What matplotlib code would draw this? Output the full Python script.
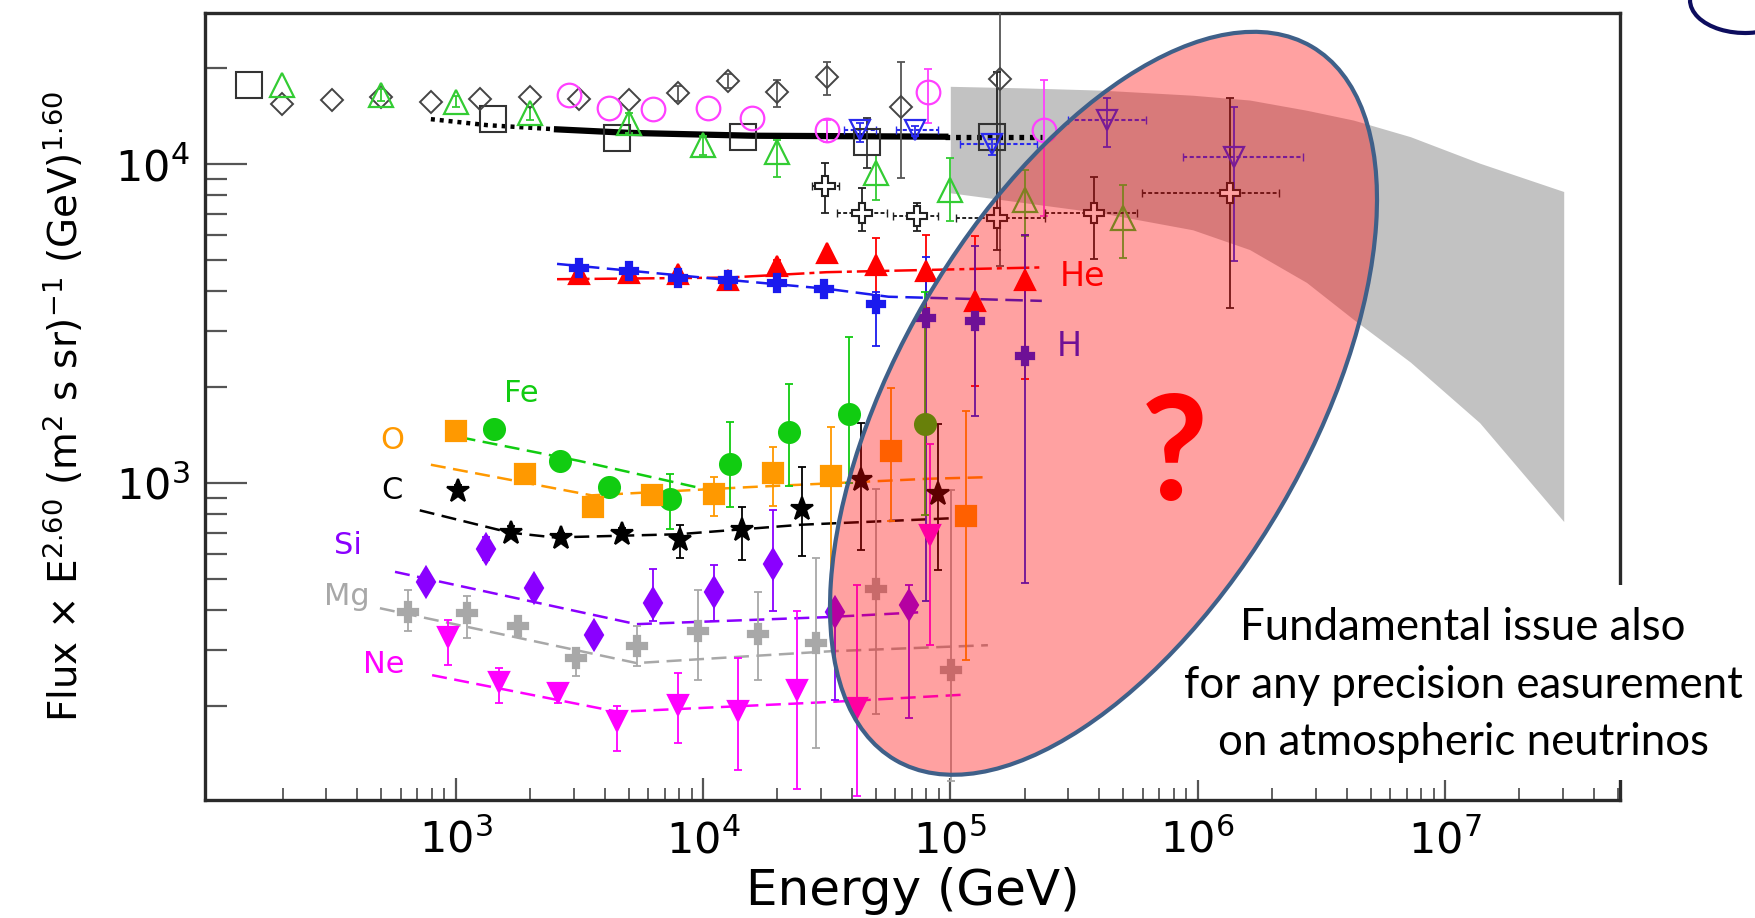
import numpy as np
import matplotlib
matplotlib.use('Agg')
import matplotlib.pyplot as plt
from matplotlib.patches import Ellipse, Rectangle, Arc
from matplotlib.ticker import FixedLocator, LogLocator, LogFormatterSciNotation, NullFormatter

# all values: log10(Energy / GeV) and log10(Flux x E^2.6)

# --- high-energy all-particle / proton data (open markers) ---
sq_lgE = [2.163, 3.153, 3.651, 4.161, 4.665, 5.167]
sq_lgF = [4.248, 4.142, 4.082, 4.087, 4.071, 4.087]
sq_lo = [4.248, 4.142, 4.082, 4.087, 3.990, 4.087]
sq_hi = [4.248, 4.142, 4.082, 4.087, 4.145, 4.087]

fit_lgE = [2.90, 3.13, 3.41, 3.70, 4.20, 4.98, 5.37]
fit_lgF = [4.142, 4.123, 4.110, 4.099, 4.090, 4.087, 4.087]

dia_lgE = [2.3, 2.5, 2.7, 2.9, 3.1, 3.3, 3.5, 3.7, 3.9, 4.1, 4.3, 4.5, 4.8, 5.2]
dia_lgF = [4.191, 4.201, 4.210, 4.196, 4.205, 4.212, 4.204, 4.202, 4.223, 4.261, 4.228, 4.274, 4.181, 4.269]
dia_lo = [4.191, 4.201, 4.210, 4.196, 4.205, 4.212, 4.204, 4.202, 4.200, 4.240, 4.181, 4.217, 3.957, 3.680]
dia_hi = [4.191, 4.201, 4.210, 4.196, 4.205, 4.212, 4.204, 4.202, 4.245, 4.285, 4.264, 4.321, 4.321, 4.600]

tri_lgE = [2.3, 2.7, 3.0, 3.3, 3.7, 4.0, 4.3, 4.7, 5.0, 5.3, 5.7]
tri_lgF = [4.248, 4.217, 4.196, 4.160, 4.129, 4.061, 4.040, 3.972, 3.920, 3.889, 3.832]
tri_lo = [4.248, 4.200, 4.180, 4.140, 4.100, 4.030, 3.962, 3.889, 3.821, 3.774, 3.708]
tri_hi = [4.248, 4.235, 4.215, 4.180, 4.160, 4.090, 4.077, 4.030, 4.020, 3.983, 3.936]

cir_lgE = [3.46, 3.62, 3.80, 4.02, 4.20, 4.50, 4.91, 5.38]
cir_lgF = [4.217, 4.176, 4.173, 4.176, 4.147, 4.108, 4.228, 4.108]
cir_lo = [4.217, 4.176, 4.173, 4.176, 4.147, 4.070, 4.129, 3.837]
cir_hi = [4.217, 4.176, 4.173, 4.176, 4.147, 4.140, 4.300, 4.264]

bdt_lgE = [4.635, 4.858, 5.17, 5.632, 6.149]
bdt_lgF = [4.108, 4.108, 4.063, 4.139, 4.024]
bdt_lo = [4.070, 4.090, 4.030, 4.056, 3.696]
bdt_hi = [4.130, 4.120, 4.080, 4.207, 4.180]
bdt_xlo = [4.57, 4.78, 5.04, 5.474, 5.94]
bdt_xhi = [4.70, 4.95, 5.35, 5.791, 6.426]

crs_lgE = [4.493, 4.643, 4.865, 5.189, 5.582, 6.129]
crs_lgF = [3.931, 3.848, 3.837, 3.832, 3.848, 3.910]
crs_lo = [3.848, 3.790, 3.790, 3.733, 3.702, 3.550]
crs_hi = [4.005, 3.927, 3.880, 4.290, 3.962, 4.207]
crs_xlo = [4.44, 4.542, 4.77, 5.024, 5.381, 5.775]
crs_xhi = [4.55, 4.743, 4.95, 5.381, 5.755, 6.329]

# grey band (all-particle model)
band_lgE = [5.0, 5.3, 5.61, 5.98, 6.21, 6.44, 6.63, 6.86, 7.14, 7.48]
band_hi = [4.245, 4.240, 4.233, 4.217, 4.202, 4.170, 4.139, 4.087, 4.004, 3.915]
band_lo = [3.911, 3.880, 3.848, 3.795, 3.733, 3.630, 3.514, 3.380, 3.190, 2.880]

# --- element spectra ---
he_lgE = [3.5, 3.7, 3.9, 4.1, 4.3, 4.5, 4.7, 4.9, 5.1, 5.3]
he_lgF = [3.655, 3.660, 3.655, 3.639, 3.681, 3.722, 3.686, 3.665, 3.571, 3.639]
he_lo = [3.645, 3.650, 3.645, 3.625, 3.665, 3.722, 3.590, 3.550, 3.306, 3.327]
he_hi = [3.665, 3.670, 3.665, 3.650, 3.700, 3.722, 3.770, 3.780, 3.774, 3.780]
he_fit_lgE = [3.41, 4.1, 4.5, 5.37]
he_fit_lgF = [3.640, 3.645, 3.662, 3.677]

h_lgE = [3.5, 3.7, 3.9, 4.1, 4.3, 4.49, 4.7, 4.9, 5.1, 5.3]
h_lgF = [3.676, 3.665, 3.644, 3.639, 3.627, 3.608, 3.561, 3.519, 3.509, 3.400]
h_lo = [3.660, 3.650, 3.625, 3.625, 3.610, 3.590, 3.431, 2.630, 3.212, 2.686]
h_hi = [3.690, 3.680, 3.660, 3.655, 3.640, 3.625, 3.600, 3.710, 3.743, 3.780]
h_fit_lgE = [3.41, 4.0, 4.5, 4.75, 5.37]
h_fit_lgF = [3.688, 3.645, 3.610, 3.585, 3.572]

fe_lgE = [3.155, 3.424, 3.621, 3.867, 4.108, 4.346, 4.592, 4.898]
fe_lgF = [3.170, 3.071, 2.988, 2.952, 3.061, 3.160, 3.217, 3.186]
fe_lo = [3.150, 3.050, 2.960, 2.858, 2.927, 2.990, 3.000, 2.900]
fe_hi = [3.190, 3.095, 3.015, 3.030, 3.192, 3.311, 3.458, 3.600]
fe_fit_lgE = [3.02, 3.5, 4.0]
fe_fit_lgF = [3.144, 3.070, 2.983]

o_lgE = [3.001, 3.282, 3.555, 3.793, 4.044, 4.285, 4.518, 4.761, 5.062]
o_lgF = [3.165, 3.030, 2.926, 2.962, 2.967, 3.032, 3.024, 3.102, 2.897]
o_lo = [3.165, 3.030, 2.926, 2.940, 2.898, 2.930, 2.590, 2.880, 2.445]
o_hi = [3.165, 3.030, 2.926, 2.985, 3.020, 3.114, 3.176, 3.300, 3.226]
o_fit_lgE = [2.90, 3.55, 4.19, 4.91, 5.15]
o_fit_lgF = [3.058, 2.962, 2.988, 3.014, 3.019]

c_lgE = [3.009, 3.224, 3.427, 3.673, 3.908, 4.159, 4.400, 4.639, 4.952]
c_lgF = [2.977, 2.845, 2.829, 2.842, 2.821, 2.852, 2.918, 3.009, 2.967]
c_lo = [2.960, 2.830, 2.815, 2.825, 2.764, 2.758, 2.773, 2.790, 2.727]
c_hi = [2.995, 2.865, 2.845, 2.860, 2.868, 2.926, 3.050, 3.190, 3.186]
c_fit_lgE = [2.855, 3.22, 3.40, 3.9, 4.4, 5.0]
c_fit_lgF = [2.915, 2.845, 2.830, 2.840, 2.870, 2.890]

si_lgE = [2.879, 3.124, 3.317, 3.559, 3.797, 4.044, 4.285, 4.534, 4.835]
si_lgF = [2.691, 2.793, 2.672, 2.523, 2.623, 2.660, 2.748, 2.597, 2.618]
si_lo = [2.670, 2.760, 2.660, 2.500, 2.567, 2.567, 2.600, 2.320, 2.264]
si_hi = [2.720, 2.830, 2.690, 2.545, 2.730, 2.743, 2.915, 2.620, 2.680]
si_fit_lgE = [2.755, 3.73, 4.5, 4.87]
si_fit_lgF = [2.722, 2.558, 2.580, 2.595]

mg_lgE = [2.809, 3.048, 3.252, 3.486, 3.732, 3.980, 4.223, 4.457, 4.700, 5.002]
mg_lgF = [2.597, 2.592, 2.551, 2.452, 2.491, 2.537, 2.527, 2.498, 2.668, 2.415]
mg_lo = [2.536, 2.514, 2.530, 2.395, 2.427, 2.384, 2.384, 2.170, 2.275, 2.067]
mg_hi = [2.665, 2.645, 2.575, 2.483, 2.551, 2.665, 2.660, 2.764, 2.983, 2.978]
mg_fit_lgE = [2.694, 3.731, 4.515, 5.152]
mg_fit_lgF = [2.608, 2.436, 2.473, 2.492]

ne_lgE = [2.971, 3.175, 3.412, 3.652, 3.898, 4.143, 4.380, 4.623, 4.918]
ne_lgF = [2.519, 2.377, 2.342, 2.254, 2.306, 2.287, 2.353, 2.295, 2.837]
ne_lo = [2.430, 2.310, 2.310, 2.160, 2.186, 2.100, 2.040, 2.020, 2.493]
ne_hi = [2.571, 2.420, 2.370, 2.300, 2.405, 2.452, 2.600, 2.680, 3.124]
ne_fit_lgE = [2.905, 3.655, 4.515, 5.058]
ne_fit_lgF = [2.398, 2.283, 2.314, 2.337]

x_ticks = [1e3, 1e4, 1e5, 1e6, 1e7]

# label text + where it sits (log10 coords)
elem_labels = ['Fe', 'O', 'C', 'Si', 'Mg', 'Ne', 'He', 'H']
elem_lab_lgE = [3.265, 2.745, 2.741, 2.566, 2.562, 2.711, 5.536, 5.482]
elem_lab_lgF = [3.280, 3.135, 2.977, 2.805, 2.645, 2.431, 3.647, 3.428]
elem_colors = ['#11cc11', '#ff9900', 'black', '#8a00ff', '#a8a8a8', '#ff00ff', '#ff0000', '#1a1aee']

note_lines = ['Fundamental issue also', 'for any precision easurement', 'on atmospheric neutrinos']


def p(v):
    return 10 ** np.asarray(v, dtype=float)


def points(ax, lgE, lgF, lo, hi, color, marker, ms, filled=True, mew=1.6, ecolor=None, z=4):
    E, F, L, H = p(lgE), p(lgF), p(lo), p(hi)
    m = (np.asarray(hi) - np.asarray(lo)) > 0.001
    if m.any():
        ax.errorbar(E[m], F[m], yerr=[F[m] - L[m], H[m] - F[m]], fmt='none',
                    ecolor=ecolor or color, elinewidth=1.3, capsize=3, capthick=1.3, zorder=z - 1)
    ax.plot(E, F, ls='none', marker=marker, ms=ms, color=color,
            mfc=color if filled else 'white' if marker == 'P' else 'none',
            mec=color, mew=mew, zorder=z)


def fitline(ax, lgE, lgF, color, ls=(0, (6, 3)), lw=1.8):
    ax.plot(p(lgE), p(lgF), color=color, ls=ls, lw=lw, zorder=2)


fig = plt.figure(figsize=(17.55, 9.18), dpi=100)
ax = fig.add_axes([205 / 1755, 1 - 800 / 918, 1415 / 1755, 787 / 918])
ax.set_xscale('log')
ax.set_yscale('log')
ax.set_xlim(97, 5.1e7)
ax.set_ylim(101.5, 29850)

# grey band
ax.fill_between(p(band_lgE), p(band_lo), p(band_hi), color='#c2c2c2', lw=0, zorder=1)

# black fit line: dotted / solid / dotted
fE, fF = p(fit_lgE), p(fit_lgF)
ax.plot(fE[:3], fF[:3], color='black', lw=3.2, ls=(0, (0.9, 1.1)), zorder=2)
ax.plot(fE[2:6], fF[2:6], color='black', lw=4.5, zorder=2)
ax.plot(fE[5:], fF[5:], color='black', lw=3.8, ls=(0, (0.9, 1.1)), zorder=2)

points(ax, sq_lgE, sq_lgF, sq_lo, sq_hi, '#333333', 's', 19, filled=False, mew=1.5)
points(ax, dia_lgE, dia_lgF, dia_lo, dia_hi, '#444444', 'D', 11, filled=False, mew=1.4, ecolor='#555555')
points(ax, tri_lgE, tri_lgF, tri_lo, tri_hi, '#33cc33', '^', 17, filled=False, mew=1.6)
points(ax, cir_lgE, cir_lgF, cir_lo, cir_hi, '#ff40ff', 'o', 17, filled=False, mew=1.6)

# open down triangles with dotted energy bars
eb = ax.errorbar(p(bdt_lgE), p(bdt_lgF),
                 xerr=[p(bdt_lgE) - p(bdt_xlo), p(bdt_xhi) - p(bdt_lgE)], fmt='none',
                 ecolor='#2a2aee', elinewidth=1.5, capsize=3, zorder=3)
eb[2][0].set_linestyle((0, (2, 1.2)))
points(ax, bdt_lgE, bdt_lgF, bdt_lo, bdt_hi, '#2a2aee', 'v', 15, filled=False, mew=1.6)

eb = ax.errorbar(p(crs_lgE), p(crs_lgF),
                 xerr=[p(crs_lgE) - p(crs_xlo), p(crs_xhi) - p(crs_lgE)], fmt='none',
                 ecolor='#222222', elinewidth=1.4, capsize=3, zorder=3)
eb[2][0].set_linestyle((0, (2, 1.2)))
points(ax, crs_lgE, crs_lgF, crs_lo, crs_hi, '#222222', 'P', 15, filled=False, mew=1.5)

# element spectra
fitline(ax, he_fit_lgE, he_fit_lgF, '#ff0000', ls=(0, (9, 2, 2, 2)))
points(ax, he_lgE, he_lgF, he_lo, he_hi, '#ff0000', '^', 15)
fitline(ax, h_fit_lgE, h_fit_lgF, '#1a1aee', ls=(0, (7, 3)))
points(ax, h_lgE, h_lgF, h_lo, h_hi, '#1a1aee', 'P', 13)
fitline(ax, fe_fit_lgE, fe_fit_lgF, '#11cc11')
points(ax, fe_lgE, fe_lgF, fe_lo, fe_hi, '#11cc11', 'o', 15)
fitline(ax, o_fit_lgE, o_fit_lgF, '#ff9900')
points(ax, o_lgE, o_lgF, o_lo, o_hi, '#ff9900', 's', 14)
fitline(ax, c_fit_lgE, c_fit_lgF, 'black')
points(ax, c_lgE, c_lgF, c_lo, c_hi, 'black', '*', 17)
fitline(ax, si_fit_lgE, si_fit_lgF, '#8a00ff')
points(ax, si_lgE, si_lgF, si_lo, si_hi, '#8a00ff', 'd', 15)
fitline(ax, mg_fit_lgE, mg_fit_lgF, '#a8a8a8')
points(ax, mg_lgE, mg_lgF, mg_lo, mg_hi, '#a8a8a8', 'P', 15)
fitline(ax, ne_fit_lgE, ne_fit_lgF, '#ff00ff')
points(ax, ne_lgE, ne_lgF, ne_lo, ne_hi, '#ff00ff', 'v', 15)

for lab, le, lf, col in zip(elem_labels, elem_lab_lgE, elem_lab_lgF, elem_colors):
    ax.text(10 ** le, 10 ** lf, lab, color=col, fontsize=24 if lab in ('He', 'H') else 22,
            ha='center', va='center', zorder=5)

# axes styling
for s in ax.spines.values():
    s.set_linewidth(2.4)
    s.set_color('#2a2a2a')
ax.xaxis.set_major_locator(FixedLocator(x_ticks))
ax.xaxis.set_major_formatter(LogFormatterSciNotation())
ax.xaxis.set_minor_locator(LogLocator(base=10, subs=np.arange(2, 10), numticks=30))
ax.xaxis.set_minor_formatter(NullFormatter())
ax.yaxis.set_minor_locator(LogLocator(base=10, subs=np.arange(2, 10), numticks=30))
ax.yaxis.set_minor_formatter(NullFormatter())
ax.tick_params(axis='x', which='major', direction='in', length=16, width=1.6, color='#555555',
               labelsize=31, pad=14)
ax.tick_params(axis='x', which='minor', direction='in', length=8.5, width=1.3, color='#555555')
ax.tick_params(axis='y', which='major', direction='in', length=30, width=1.6, color='#555555',
               labelsize=31, pad=11)
ax.tick_params(axis='y', which='minor', direction='in', length=16, width=1.6, color='#555555')

ax.set_xlabel('Energy (GeV)', fontsize=36)
ax.xaxis.set_label_coords(0.5, -0.085)
ax.set_ylabel(r'Flux $\times$ E$^{2.60}$ (m$^{2}$ s sr)$^{-1}$ (GeV)$^{1.60}$', fontsize=28)
ax.yaxis.set_label_coords(-0.084, 0.5)

# overlay: white note box, ellipse, question mark, note text
tr = fig.dpi_scale_trans
fig.add_artist(Rectangle((11.96, 1.38), 5.59, 1.95, transform=tr, facecolor='white',
                         edgecolor='none', zorder=1))
fig.add_artist(Ellipse((11.035, 5.147), 8.26, 4.11, angle=59.75, transform=tr,
                       facecolor=(1, 0, 0, 0.37), edgecolor='#3f6089', lw=3, zorder=2))
fig.text(11.74, 4.18, '?', transform=tr, color='#ff0000', fontsize=105, family='Lato',
         fontweight='bold', ha='center', va='baseline', zorder=3)
for i, line in enumerate(note_lines):
    fig.text(14.63, 2.78 - i * 0.575, line, transform=tr, fontsize=31.5, family='Lato',
             ha='center', va='baseline', zorder=3)
fig.add_artist(Arc((17.45, 9.18), 1.1, 0.66, theta1=180, theta2=320, transform=tr,
                   color='#0d0d5e', lw=3, zorder=3))

fig.savefig('out.png', dpi=100)
